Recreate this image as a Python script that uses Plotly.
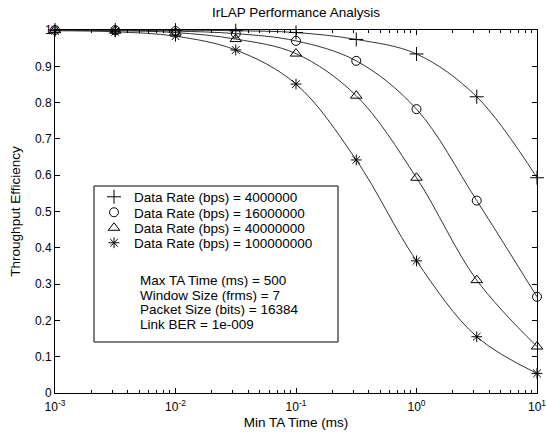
import plotly.graph_objects as go

# ---------------- data ----------------
min_ta_ms = [0.001, 0.003162, 0.01, 0.03162, 0.1, 0.3162, 1, 3.162, 10]
eff_4m = [1.0, 1.0, 0.9995, 0.998, 0.993, 0.974, 0.934, 0.816, 0.593]
eff_16m = [1.0, 0.9995, 0.997, 0.99, 0.970, 0.915, 0.782, 0.530, 0.265]
eff_40m = [0.9995, 0.998, 0.993, 0.975, 0.935, 0.819, 0.593, 0.311, 0.128]
eff_100m = [0.998, 0.995, 0.983, 0.945, 0.851, 0.642, 0.364, 0.155, 0.054]

series_names = [
    "Data Rate (bps) = 4000000",
    "Data Rate (bps) = 16000000",
    "Data Rate (bps) = 40000000",
    "Data Rate (bps) = 100000000",
]
series_values = [eff_4m, eff_16m, eff_40m, eff_100m]
series_symbols = ["cross-thin-open", "circle-open", "triangle-up-open", "asterisk-open"]
series_sizes = [10, 9, 10, 9]

param_lines = [
    "Max TA Time (ms) = 500",
    "Window Size (frms) = 7",
    "Packet Size (bits) = 16384",
    "Link BER = 1e-009",
]

x_tick_vals = [0.001, 0.01, 0.1, 1, 10]
x_tick_text = ["10<sup>-3</sup>", "10<sup>-2</sup>", "10<sup>-1</sup>", "10<sup>0</sup>", "10<sup>1</sup>"]
x_minor_vals = [k * 10.0 ** e for e in range(-3, 1) for k in range(2, 10)]

# ---------------- layout geometry (pixels) ----------------
W, H = 546, 441
L, R, T, B = 55, 9, 30, 48
pw, ph = W - L - R, H - T - B


def fx(px):
    return (px - L) / pw


def fy(py):
    return (H - B - py) / ph


FONT = "Liberation Sans, Arial, sans-serif"
TXT = 13.5

fig = go.Figure()

legend_rows = [197, 212.5, 228, 243]
param_rows = [280.5, 295, 309.5, 324]

for i, (name, vals, sym, sz) in enumerate(zip(series_names, series_values, series_symbols, series_sizes)):
    fig.add_trace(go.Scatter(
        x=min_ta_ms, y=vals, mode="lines",
        line=dict(color="#333333", width=1, shape="spline", smoothing=1.0),
        showlegend=False, hoverinfo="skip",
    ))
    lg = "legend" if i == 0 else f"legend{i + 1}"
    fig.add_trace(go.Scatter(
        x=min_ta_ms, y=vals, mode="markers", name=name,
        marker=dict(symbol=sym, size=sz, color="black", line=dict(color="black", width=1)),
        cliponaxis=False, legend=lg,
    ))

legend_common = dict(
    xanchor="left", yanchor="middle", bgcolor="rgba(0,0,0,0)", borderwidth=0,
    font=dict(family=FONT, size=TXT, color="black"), itemwidth=30,
)
layout_legends = {}
for i, ry in enumerate(legend_rows):
    key = "legend" if i == 0 else f"legend{i + 1}"
    layout_legends[key] = dict(x=fx(94), y=fy(ry), **legend_common)

annotations = []
for txt, ry in zip(param_lines, param_rows):
    annotations.append(dict(
        text=txt, x=fx(137.5), y=fy(ry), xref="paper", yref="paper",
        xanchor="left", yanchor="middle", showarrow=False, height=14.5,
        font=dict(family=FONT, size=TXT, color="black"),
    ))

fig.update_layout(
    width=W, height=H,
    margin=dict(l=L, r=R, t=T, b=B, autoexpand=False),
    paper_bgcolor="white", plot_bgcolor="white",
    title=dict(text="IrLAP Performance Analysis", x=0.5, xref="paper",
               y=1 - 12 / H, yref="container", xanchor="center", yanchor="middle",
               font=dict(family=FONT, size=TXT, color="black")),
    annotations=annotations,
    shapes=[dict(type="rect", xref="paper", yref="paper",
                 x0=fx(94), x1=fx(338), y0=fy(342), y1=fy(186),
                 line=dict(color="black", width=1), fillcolor="white", layer="below")],
    **layout_legends,
)

fig.update_xaxes(
    type="log", range=[-3, 1], automargin=False,
    tickvals=x_tick_vals, ticktext=x_tick_text, ticklabeloverflow="allow",
    ticklabelstandoff=3,
    ticks="inside", ticklen=5, tickcolor="black", tickwidth=1,
    minor=dict(tickvals=x_minor_vals, ticks="inside", ticklen=3, tickcolor="black", showgrid=False),
    showline=True, linecolor="black", linewidth=1, mirror="ticks",
    showgrid=False, zeroline=False,
    tickfont=dict(family=FONT, size=12, color="black"),
    title=dict(text="Min TA Time (ms)", font=dict(family=FONT, size=TXT, color="black"), standoff=4),
)
fig.update_yaxes(
    range=[0, 1], tick0=0, dtick=0.1, automargin=False,
    ticks="inside", ticklen=5, tickcolor="black", tickwidth=1,
    showline=True, linecolor="black", linewidth=1, mirror="ticks",
    showgrid=False, zeroline=False,
    tickfont=dict(family=FONT, size=12, color="black"),
    title=dict(text="Throughput Efficiency", font=dict(family=FONT, size=TXT, color="black"), standoff=11),
)

fig.write_html("out.html")
